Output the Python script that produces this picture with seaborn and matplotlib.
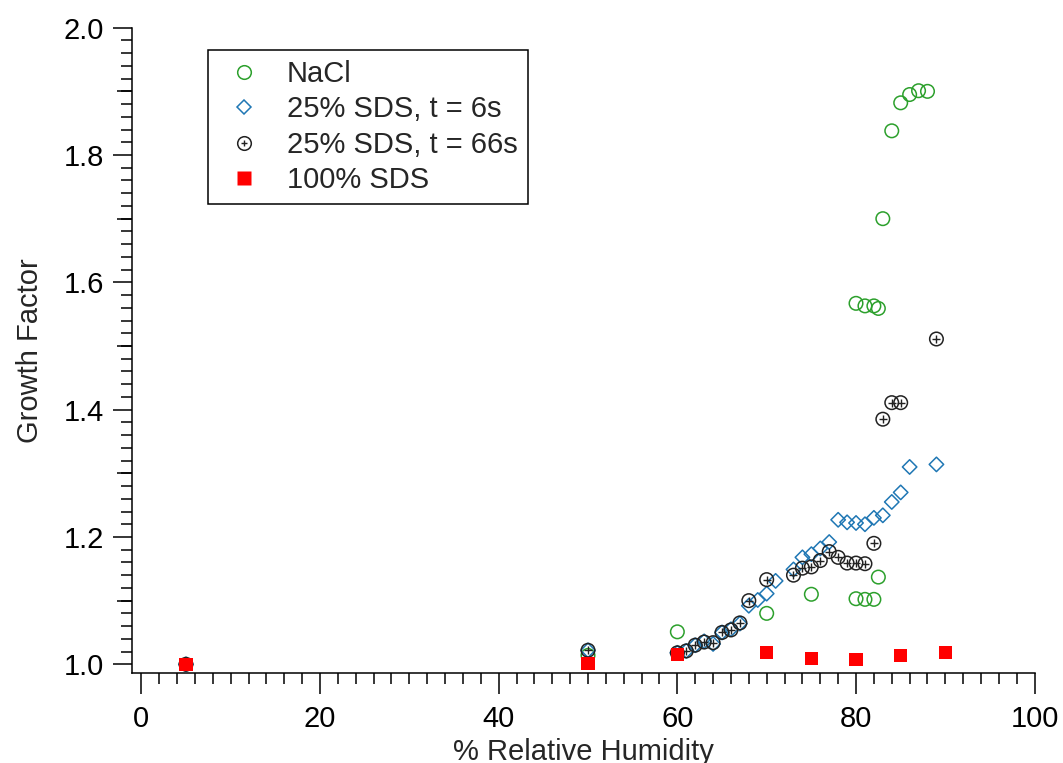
import numpy as np
import pandas as pd
import seaborn as sns
import matplotlib.pyplot as plt
from matplotlib.lines import Line2D
from matplotlib.legend_handler import HandlerTuple
from matplotlib.ticker import MultipleLocator, FixedLocator, NullFormatter

# --- data -------------------------------------------------------------------
nacl_rh = [50, 60, 70, 75, 80, 81, 82, 82.5,
           80, 81, 82, 82.5, 83, 84, 85, 86, 87, 88]
nacl_gf = [1.014, 1.051, 1.080, 1.110, 1.103, 1.102, 1.102, 1.137,
           1.567, 1.563, 1.563, 1.559, 1.700, 1.838, 1.882, 1.895, 1.901, 1.900]

sds6_rh = [5, 50, 60, 61, 62, 63, 64, 65, 66, 67, 68, 69, 70, 71, 73, 74, 75,
           76, 77, 78, 79, 80, 81, 82, 83, 84, 85, 86, 89]
sds6_gf = [1.000, 1.022, 1.018, 1.021, 1.030, 1.036, 1.032, 1.050, 1.055,
           1.064, 1.092, 1.101, 1.111, 1.131, 1.149, 1.168, 1.173, 1.182,
           1.192, 1.227, 1.223, 1.222, 1.220, 1.230, 1.234, 1.255, 1.270,
           1.310, 1.314]

sds66_rh = [5, 50, 60, 61, 62, 63, 64, 65, 66, 67, 68, 70, 73, 74, 75, 76,
            77, 78, 79, 80, 81, 82, 83, 84, 85, 89]
sds66_gf = [1.000, 1.022, 1.018, 1.021, 1.030, 1.035, 1.034, 1.050, 1.054,
            1.065, 1.100, 1.133, 1.140, 1.151, 1.153, 1.163, 1.177, 1.168,
            1.159, 1.159, 1.158, 1.190, 1.385, 1.411, 1.411, 1.511]

sds100_rh = [5, 50, 60, 70, 75, 80, 85, 90]
sds100_gf = [1.000, 1.001, 1.016, 1.019, 1.009, 1.008, 1.014, 1.019]

x_ticks = [0, 20, 40, 60, 80, 100]
y_ticks = [1.0, 1.2, 1.4, 1.6, 1.8, 2.0]

GREEN = "#2ca02c"
BLUE = "#1f77b4"
DARK = "#222222"
RED = "#ff0000"
FS = 21

# --- style ------------------------------------------------------------------
sns.set_style("ticks")
plt.rcParams["font.family"] = ["Liberation Sans", "DejaVu Sans"]

fig = plt.figure(figsize=(10.63, 7.63), dpi=100)
ax = fig.add_axes([0.12418, 0.11796, 0.84920, 0.84574])

df_nacl = pd.DataFrame({"rh": nacl_rh, "gf": nacl_gf})
df_6 = pd.DataFrame({"rh": sds6_rh, "gf": sds6_gf})
df_66 = pd.DataFrame({"rh": sds66_rh, "gf": sds66_gf})
df_100 = pd.DataFrame({"rh": sds100_rh, "gf": sds100_gf})

sns.scatterplot(data=df_nacl, x="rh", y="gf", ax=ax, marker="o", s=95,
                facecolor="none", edgecolor=GREEN, linewidth=1.1, zorder=2)
sns.scatterplot(data=df_6, x="rh", y="gf", ax=ax, marker="D", s=54,
                facecolor="none", edgecolor=BLUE, linewidth=1.1, zorder=3)
sns.scatterplot(data=df_66, x="rh", y="gf", ax=ax, marker="o", s=95,
                facecolor="none", edgecolor=DARK, linewidth=1.1, zorder=4)
sns.scatterplot(data=df_66, x="rh", y="gf", ax=ax, marker="+", s=26,
                color=DARK, linewidth=1.0, zorder=4)
sns.scatterplot(data=df_100, x="rh", y="gf", ax=ax, marker="s", s=90,
                color=RED, edgecolor="none", linewidth=0, zorder=5)

# --- axes -------------------------------------------------------------------
ax.set_xlim(-1.041, 100)
ax.set_ylim(0.98633, 2.0)
for side in ("top", "right"):
    ax.spines[side].set_visible(False)
for side in ("left", "bottom"):
    ax.spines[side].set_linewidth(1.1)
    ax.spines[side].set_color("black")

ax.xaxis.set_major_locator(FixedLocator(x_ticks))
ax.xaxis.set_minor_locator(MultipleLocator(2))
ax.yaxis.set_major_locator(FixedLocator(y_ticks))
ax.yaxis.set_minor_locator(MultipleLocator(0.02))
ax.set_xticklabels([str(v) for v in x_ticks])
ax.set_yticklabels([f"{v:.1f}" for v in y_ticks])

ax.tick_params(axis="both", which="major", direction="out", length=14,
               width=1.1, color="black", labelsize=FS, labelcolor="black")
ax.tick_params(axis="both", which="minor", direction="out", length=8,
               width=1.1, color="black")
ax.tick_params(axis="x", which="major", length=15, pad=8)
ax.tick_params(axis="y", which="major", pad=6)

# intermediate-length ticks at the odd tenths
sec = ax.secondary_yaxis("left")
sec.spines["left"].set_visible(False)
sec.yaxis.set_major_locator(FixedLocator([1.1, 1.3, 1.5, 1.7, 1.9]))
sec.yaxis.set_major_formatter(NullFormatter())
sec.tick_params(axis="y", which="major", direction="out", length=11,
                width=1.1, color="black")
sec.yaxis.set_minor_locator(FixedLocator([]))

ax.set_xlabel("% Relative Humidity", fontsize=FS, labelpad=4)
ax.set_ylabel("Growth Factor", fontsize=FS, labelpad=14)

# --- legend -----------------------------------------------------------------
h_nacl = Line2D([], [], ls="none", marker="o", ms=9.8, mfc="none",
                mec=GREEN, mew=1.1)
h_6 = Line2D([], [], ls="none", marker="D", ms=7.3, mfc="none",
             mec=BLUE, mew=1.1)
h_66c = Line2D([], [], ls="none", marker="o", ms=9.8, mfc="none",
               mec=DARK, mew=1.1)
h_66p = Line2D([], [], ls="none", marker="+", ms=5.0, mec=DARK, mew=1.0)
h_100 = Line2D([], [], ls="none", marker="s", ms=9.6, mfc=RED, mec="none")

leg = ax.legend([h_nacl, h_6, (h_66c, h_66p), h_100],
                ["NaCl", "25% SDS, t = 6s", "25% SDS, t = 66s", "100% SDS"],
                handler_map={tuple: HandlerTuple(ndivide=1, pad=0)},
                loc="upper left", bbox_to_anchor=(0.0842, 0.9655),
                borderaxespad=0, fontsize=FS, frameon=True, fancybox=False,
                edgecolor="black", framealpha=1, labelspacing=0.25,
                handlelength=1.79, handletextpad=0.565, borderpad=0.35)
leg.get_frame().set_linewidth(1.1)

fig.savefig("out.png", dpi=100)
